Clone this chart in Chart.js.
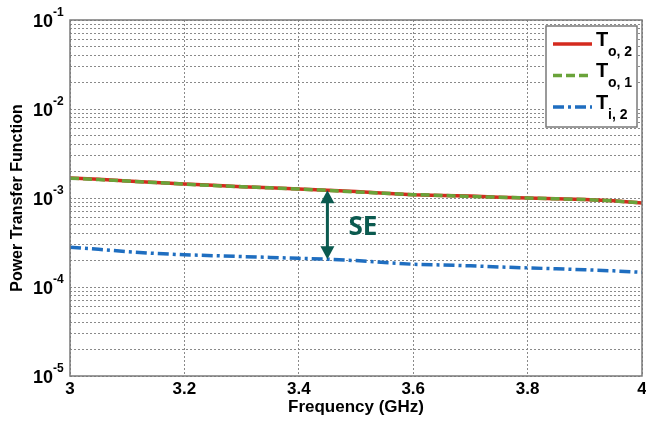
<!DOCTYPE html>
<html lang="en">
<head>
    <meta charset="UTF-8">
    <title>Power Transfer Function</title>
    <script src="https://cdn.jsdelivr.net/npm/chart.js"></script>
    <style>
        body {
            margin: 0;
            background-color: #ffffff;
        }
    </style>
</head>
<body>
    <canvas id="ptf-chart" width="646" height="421"></canvas>

    <script>
        // frequency points (GHz)
        const freq = [3.00, 3.05, 3.10, 3.15, 3.20, 3.25, 3.30, 3.35, 3.40, 3.45, 3.50,
                      3.55, 3.60, 3.65, 3.70, 3.75, 3.80, 3.85, 3.90, 3.95, 4.00];

        // T o,2
        const to2 = [1.68e-3, 1.62e-3, 1.55e-3, 1.49e-3, 1.44e-3, 1.39e-3, 1.34e-3, 1.30e-3, 1.26e-3, 1.22e-3, 1.18e-3,
                     1.13e-3, 1.09e-3, 1.07e-3, 1.05e-3, 1.02e-3, 1.00e-3, 0.98e-3, 0.96e-3, 0.93e-3, 0.88e-3];
        // T o,1
        const to1 = [1.67e-3, 1.61e-3, 1.55e-3, 1.49e-3, 1.43e-3, 1.38e-3, 1.34e-3, 1.30e-3, 1.26e-3, 1.22e-3, 1.17e-3,
                     1.13e-3, 1.09e-3, 1.07e-3, 1.04e-3, 1.02e-3, 1.00e-3, 0.98e-3, 0.96e-3, 0.93e-3, 0.88e-3];
        // T i,2
        const ti2 = [2.80e-4, 2.65e-4, 2.50e-4, 2.38e-4, 2.30e-4, 2.25e-4, 2.20e-4, 2.15e-4, 2.10e-4, 2.05e-4, 1.98e-4,
                     1.88e-4, 1.80e-4, 1.77e-4, 1.73e-4, 1.68e-4, 1.64e-4, 1.60e-4, 1.56e-4, 1.52e-4, 1.46e-4];

        // legend names: [main, subscript]
        const seriesNames = [['T', 'o, 2'], ['T', 'o, 1'], ['T', 'i, 2']];
        const xTicks = [3, 3.2, 3.4, 3.6, 3.8, 4];
        const yDecades = [-5, -4, -3, -2, -1];
        const yTitle = 'Power Transfer Function';

        // SE annotation at this sample
        const seIndex = 9;
        const seLabel = 'SE';

        const colRed = '#d42a1e';
        const colGreen = '#6aa33a';
        const colBlue = '#1f6ec0';
        const colSE = '#0b5a4f';

        const pts = arr => arr.map((v, i) => ({ x: freq[i], y: v }));

        // frame, y labels, legend and SE arrow
        const extras = {
            id: 'extras',
            afterDatasetsDraw(chart) {
                const ctx = chart.ctx;
                const a = chart.chartArea;
                const x = chart.scales.x, y = chart.scales.y;

                // SE arrow
                const ax = x.getPixelForValue(freq[seIndex]);
                const y1 = y.getPixelForValue(to2[seIndex]);
                const y2 = y.getPixelForValue(ti2[seIndex]);
                ctx.save();
                ctx.strokeStyle = colSE;
                ctx.fillStyle = colSE;
                ctx.lineWidth = 3;
                ctx.beginPath();
                ctx.moveTo(ax, y1 + 10);
                ctx.lineTo(ax, y2 - 10);
                ctx.stroke();
                ctx.beginPath();
                ctx.moveTo(ax, y1);
                ctx.lineTo(ax - 7, y1 + 13);
                ctx.lineTo(ax + 7, y1 + 13);
                ctx.closePath();
                ctx.fill();
                ctx.beginPath();
                ctx.moveTo(ax, y2);
                ctx.lineTo(ax - 7, y2 - 13);
                ctx.lineTo(ax + 7, y2 - 13);
                ctx.closePath();
                ctx.fill();
                ctx.font = 'bold 26px "Open Sans", Arial, sans-serif';
                ctx.textAlign = 'left';
                ctx.textBaseline = 'middle';
                ctx.fillText(seLabel, ax + 21, (y1 + y2) / 2 + 3);
                ctx.restore();

                // frame
                ctx.save();
                ctx.strokeStyle = '#7a7a7a';
                ctx.lineWidth = 1.5;
                ctx.strokeRect(a.left, a.top, a.right - a.left, a.bottom - a.top);
                ctx.restore();

                // y tick labels 10^n
                ctx.save();
                ctx.fillStyle = '#000';
                ctx.textBaseline = 'middle';
                yDecades.forEach(e => {
                    const py = y.getPixelForValue(Math.pow(10, e));
                    ctx.font = 'bold 18px "Liberation Sans", Arial, sans-serif';
                    ctx.textAlign = 'right';
                    ctx.fillText('10', a.left - 17, py + 2);
                    ctx.font = 'bold 12px "Liberation Sans", Arial, sans-serif';
                    ctx.textAlign = 'left';
                    ctx.fillText(String(e), a.left - 17, py - 7);
                });
                // y axis title
                ctx.translate(18, (a.top + a.bottom) / 2);
                ctx.rotate(-Math.PI / 2);
                ctx.textAlign = 'center';
                ctx.font = 'bold 16px "Liberation Sans", Arial, sans-serif';
                ctx.fillText(yTitle, 0, 0);
                ctx.restore();

                // legend
                const lw = 91, lh = 101;
                const lx = a.right - lw - 5, ly = a.top + 6;
                ctx.save();
                ctx.fillStyle = '#fff';
                ctx.fillRect(lx, ly, lw, lh);
                ctx.strokeStyle = '#7a7a7a';
                ctx.lineWidth = 1.5;
                ctx.strokeRect(lx, ly, lw, lh);
                chart.data.datasets.forEach((ds, i) => {
                    const ry = ly + 18 + i * 31.5;
                    ctx.strokeStyle = ds.borderColor;
                    ctx.lineWidth = ds.borderWidth;
                    ctx.setLineDash(ds.borderDash || []);
                    ctx.beginPath();
                    ctx.moveTo(lx + 7, ry);
                    ctx.lineTo(lx + 46, ry);
                    ctx.stroke();
                    ctx.setLineDash([]);
                    ctx.fillStyle = '#000';
                    ctx.textAlign = 'left';
                    ctx.textBaseline = 'middle';
                    ctx.font = 'bold 20px "Liberation Sans", Arial, sans-serif';
                    ctx.fillText(seriesNames[i][0], lx + 50, ry - 4);
                    ctx.font = 'bold 14px "Liberation Sans", Arial, sans-serif';
                    ctx.fillText(seriesNames[i][1], lx + 62, ry + 8);
                });
                ctx.restore();
            }
        };

        const gridStyle = {
            color: '#8a8a8a',
            lineWidth: 1,
            drawTicks: false
        };

        new Chart(document.getElementById('ptf-chart'), {
            type: 'line',
            data: {
                datasets: [
                    {
                        label: 'To,2',
                        data: pts(to2),
                        borderColor: colRed,
                        borderWidth: 3.5,
                        pointRadius: 0,
                        order: 2
                    },
                    {
                        label: 'To,1',
                        data: pts(to1),
                        borderColor: colGreen,
                        borderWidth: 3.5,
                        borderDash: [9, 4],
                        pointRadius: 0,
                        order: 1
                    },
                    {
                        label: 'Ti,2',
                        data: pts(ti2),
                        borderColor: colBlue,
                        borderWidth: 3.5,
                        borderDash: [11, 4, 3, 4],
                        pointRadius: 0,
                        order: 0
                    }
                ]
            },
            options: {
                responsive: false,
                animation: false,
                layout: { padding: { left: 0, right: 4, top: 20, bottom: 0 } },
                plugins: {
                    legend: { display: false },
                    tooltip: { enabled: false }
                },
                scales: {
                    x: {
                        type: 'linear',
                        min: 3,
                        max: 4,
                        afterBuildTicks: s => { s.ticks = xTicks.map(v => ({ value: v })); },
                        afterFit: s => {
                            s.height = 45;
                            s.paddingLeft = 0;
                            s.paddingRight = 0;
                        },
                        grid: gridStyle,
                        border: { display: false, dash: [2, 2] },
                        ticks: {
                            padding: 3,
                            color: '#000',
                            font: { family: '"Liberation Sans", Arial', size: 17, weight: 'bold' },
                            maxRotation: 0,
                            callback: v => String(+v.toFixed(1))
                        },
                        title: {
                            display: true,
                            text: 'Frequency (GHz)',
                            color: '#000',
                            padding: { top: 0, bottom: 3 },
                            font: { family: '"Liberation Sans", Arial', size: 17, weight: 'bold' }
                        }
                    },
                    y: {
                        type: 'logarithmic',
                        min: 1e-5,
                        max: 1e-1,
                        afterBuildTicks: s => {
                            const t = [];
                            for (let e = -5; e < -1; e++) {
                                for (let k = 1; k <= 9; k++) {
                                    t.push({ value: Number((k * Math.pow(10, e)).toPrecision(3)) });
                                }
                            }
                            t.push({ value: 1e-1 });
                            s.ticks = t;
                        },
                        afterFit: s => {
                            s.width = 70;
                            s.paddingTop = 0;
                            s.paddingBottom = 0;
                        },
                        grid: gridStyle,
                        border: { display: false, dash: [2, 2] },
                        ticks: { display: false }
                    }
                }
            },
            plugins: [extras]
        });
    </script>
</body>
</html>
